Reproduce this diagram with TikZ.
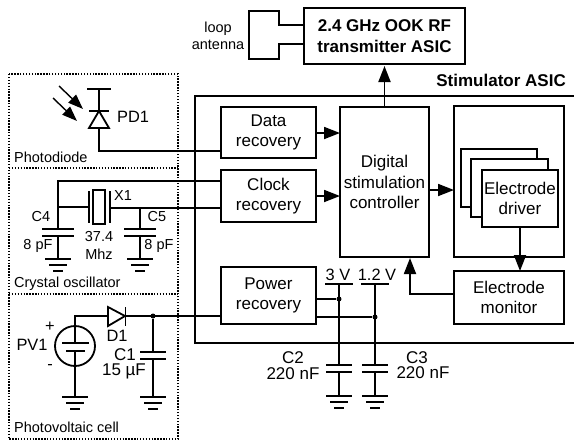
\documentclass[tikz,border=0pt]{standalone}
\usepackage{fontspec}
\setmainfont{Liberation Sans}
\usetikzlibrary{arrows.meta}
\newcommand{\flab}{\fontsize{17}{20.5}\selectfont}
\newcommand{\fsml}{\fontsize{14.5}{17}\selectfont}
\newcommand{\fmid}{\fontsize{16.4}{20}\selectfont}
\newcommand{\fcap}{\fontsize{17}{15.5}\selectfont}
\tikzset{
  x=1pt,y=-1pt,
  wire/.style={line width=1.8pt,line cap=butt,line join=miter},
  arrowwire/.style={wire,-{Triangle[length=16pt,width=12pt]}},
  dotbox/.style={line width=1.3pt,dash pattern=on 1.4pt off 1.5pt},
  block/.style={draw,line width=1.8pt,fill=white,inner sep=0pt,outer sep=0pt,minimum width=#1,align=center,font=\flab},
  capnote/.style={font=\fcap,align=center,inner sep=0pt},
  small/.style={font=\fsml,align=center,inner sep=0pt},
  jdot/.style={circle,fill=black,inner sep=0pt,minimum size=5pt},
  pics/gnd/.style={code={
    \draw[wire] (-13,0) -- (13,0);
    \draw[wire] (-9,6) -- (9,6);
    \draw[wire] (-5,12) -- (5,12);
  }},
  pics/capplates/.style={code={
    \draw[wire] (-#1,0) -- (#1,0);
    \draw[wire] (-#1,7) -- (#1,7);
  }}
}
\begin{document}
\begin{tikzpicture}
\useasboundingbox (0,0) rectangle (574,440);
% dotted enclosures
\draw[dotbox] (9,74) rectangle (178,439);
\draw[dotbox] (9,168) -- (178,168);
\draw[dotbox] (9,294) -- (178,294);
\node[small,anchor=west] (lblPD) at (14,157) {Photodiode};
\node[small,anchor=west] (lblXO) at (14,284) {Crystal oscillator};
\node[small,anchor=west] (lblPV) at (14,427) {Photovoltaic cell};
% stimulator outline
\draw[wire] (574,96) -- (195,96) -- (195,343) -- (574,343);
\node[anchor=east,inner sep=0pt,font=\flab\bfseries] (lblASIC) at (566,80) {Stimulator ASIC};
% blocks
\node[block=95pt,minimum height=51pt] (data) at (268.5,132.5) {Data\\recovery};
\node[block=95pt,minimum height=52pt] (clock) at (268.5,196) {Clock\\recovery};
\node[block=95pt,minimum height=57pt] (power) at (268.5,295.5) {Power\\recovery};
\node[block=89pt,minimum height=150pt] (ctrl) at (384.5,182) {Digital\\stimulation\\controller};
\node[block=110pt,minimum height=151pt] (drvbox) at (509,181.5) {};
\node[block=110pt,minimum height=53pt] (mon) at (509,297.5) {Electrode\\monitor};
\node[block=76pt,minimum height=58pt] (drv1) at (499,178) {};
\node[block=77pt,minimum height=58pt] (drv2) at (509.5,188) {};
\node[block=76pt,minimum height=57pt] (drv3) at (520,198.5) {Electrode\\driver};
\node[block=161pt,minimum height=56pt,font=\flab\bfseries] (tx) at (384.5,36) {2.4 GHz OOK RF\\transmitter ASIC};
% antenna
\node[small] (lblAnt) at (218,35.5) {loop\\antenna};
\coordinate (txA) at (tx.west |- 0,25);
\coordinate (txB) at (tx.west |- 0,44);
\draw[wire] (txA) -- (279,25) -- (279,11) -- (249,11) -- (249,59) -- (279,59) -- (279,44) -- (txB);
% block arrows
\draw[arrowwire] (ctrl.north) -- (384.5,66);
\coordinate (dataR) at (data.east |- 0,133);
\coordinate (ctrlD) at (ctrl.west |- 0,133);
\draw[arrowwire] (dataR) -- (ctrlD);
\coordinate (clockR) at (clock.east |- 0,196);
\coordinate (ctrlC) at (ctrl.west |- 0,196);
\draw[arrowwire] (clockR) -- (ctrlC);
\coordinate (ctrlO) at (ctrl.east |- 0,190);
\coordinate (drvI) at (drvbox.west |- 0,190);
\draw[arrowwire] (ctrlO) -- (drvI);
\coordinate (drvO) at (drv3.south);
\coordinate (monI) at (drv3.south |- mon.north);
\draw[arrowwire] (drvO) -- (monI);
\coordinate (monO) at (mon.west |- 0,294);
\coordinate (ctrlM) at (410,258);
\draw[arrowwire] (monO) -- (410,294) -- (ctrlM);
% photodiode
\coordinate (pdTop) at (99,89);
\coordinate (pdK) at (99,111);
\coordinate (pdA) at (99,128);
\coordinate (dataW) at (data.west |- 0,151);
\draw[wire] (87,89) -- (111,89);
\draw[wire] (pdTop) -- (pdK);
\draw[wire] (89,111) -- (109,111);
\draw[wire,line join=miter] (pdK) -- (109,128) -- (89,128) -- cycle;
\draw[wire] (pdA) -- (99,151) -- (dataW);
\draw[arrowwire,-{Triangle[length=15pt,width=11pt]},line width=1.4pt] (59,86) -- (83,109);
\draw[arrowwire,-{Triangle[length=15pt,width=11pt]},line width=1.4pt] (53,98) -- (77,121);
\node[font=\fmid,anchor=west,inner sep=0pt] (lblPD1) at (117,117) {PD1};
% crystal oscillator
\coordinate (clockA) at (clock.west |- 0,181);
\coordinate (clockB) at (clock.west |- 0,208);
\coordinate (c4t) at (58,229);
\coordinate (c5t) at (140,229);
\draw[wire] (clockA) -- (58,181) -- (c4t);
\pic at (c4t) {capplates=16};
\draw[wire] (58,236) -- (58,259);
\pic at (58,259) {gnd};
\draw[wire] (58,207) -- (89,207);
\draw[wire] (89,191) -- (89,223);
\node[draw,line width=1.8pt,minimum width=12pt,minimum height=34pt,inner sep=0pt] (xtal) at (99,207) {};
\draw[wire] (110,191) -- (110,223);
\draw[wire] (110,208) -- (clockB);
\draw[wire] (140,208) -- (c5t);
\pic at (c5t) {capplates=16};
\draw[wire] (140,236) -- (140,259);
\pic at (140,259) {gnd};
\node[small] (lblC4) at (41,217) {C4};
\node[small] (lblC4v) at (38,246) {8 pF};
\node[small] (lblX) at (99,245.5) {37.4\\[1pt]Mhz};
\node[small] (lblX1) at (123,196) {X1};
\node[small] (lblC5) at (157,217) {C5};
\node[small] (lblC5v) at (159,246) {8 pF};
% photovoltaic cell
\node[draw,circle,line width=1.8pt,minimum size=40pt,inner sep=0pt] (pv) at (75,346) {};
\coordinate (powerIn) at (power.west |- 0,316);
\draw[wire] (75,343) -- (75,316) -- (108,316);
\draw[wire] (62,343) -- (89,343);
\draw[wire] (66,351) -- (85,351);
\draw[wire] (75,351) -- (75,397);
\pic at (75,397) {gnd};
\draw[wire,line join=miter] (108,307) -- (108,326) -- (125,316) -- cycle;
\draw[wire] (125.5,307) -- (125.5,326);
\draw[wire] (125,316) -- (powerIn);
\node[jdot] (j1) at (153,316) {};
\draw[wire] (j1) -- (153,352);
\pic at (153,352) {capplates=13};
\draw[wire] (153,359) -- (153,397);
\pic at (153,397) {gnd};
\node[font=\fmid,inner sep=0pt] (lblPlus) at (50,327) {+};
\node[font=\fmid,inner sep=0pt] (lblMinus) at (50,367) {-};
\node[font=\fmid,inner sep=0pt] (lblPV1) at (32,345) {PV1};
\node[font=\fmid,inner sep=0pt] (lblD1) at (117,336) {D1};
\node[capnote] (lblC1) at (124,364) {\hspace*{2pt}C1\\15 µF};
% rails
\node[jdot] (j3) at (339,299) {};
\node[jdot] (j12) at (375,317) {};
\coordinate (pwrA) at (power.east |- j3);
\coordinate (pwrB) at (power.east |- j12);
\draw[wire] (pwrA) -- (j3);
\draw[wire] (pwrB) -- (j12);
\draw[wire] (325,284) -- (353,284);
\draw[wire] (361,284) -- (389,284);
\draw[wire] (339,284) -- (339,365);
\draw[wire] (375,284) -- (375,365);
\pic at (339,365) {capplates=13};
\pic at (375,365) {capplates=13};
\draw[wire] (339,372) -- (339,396);
\draw[wire] (375,372) -- (375,396);
\pic at (339,396) {gnd};
\pic at (375,396) {gnd};
\node[font=\fmid,inner sep=0pt] (lbl3V) at (338,275) {3 V};
\node[font=\fmid,inner sep=0pt] (lbl12V) at (377,275) {1.2 V};
\node[capnote] (lblC2) at (293,365.5) {C2\\220 nF};
\node[capnote] (lblC3) at (423,365) {\hspace*{-12pt}C3\\220 nF};
\end{tikzpicture}
\end{document}
